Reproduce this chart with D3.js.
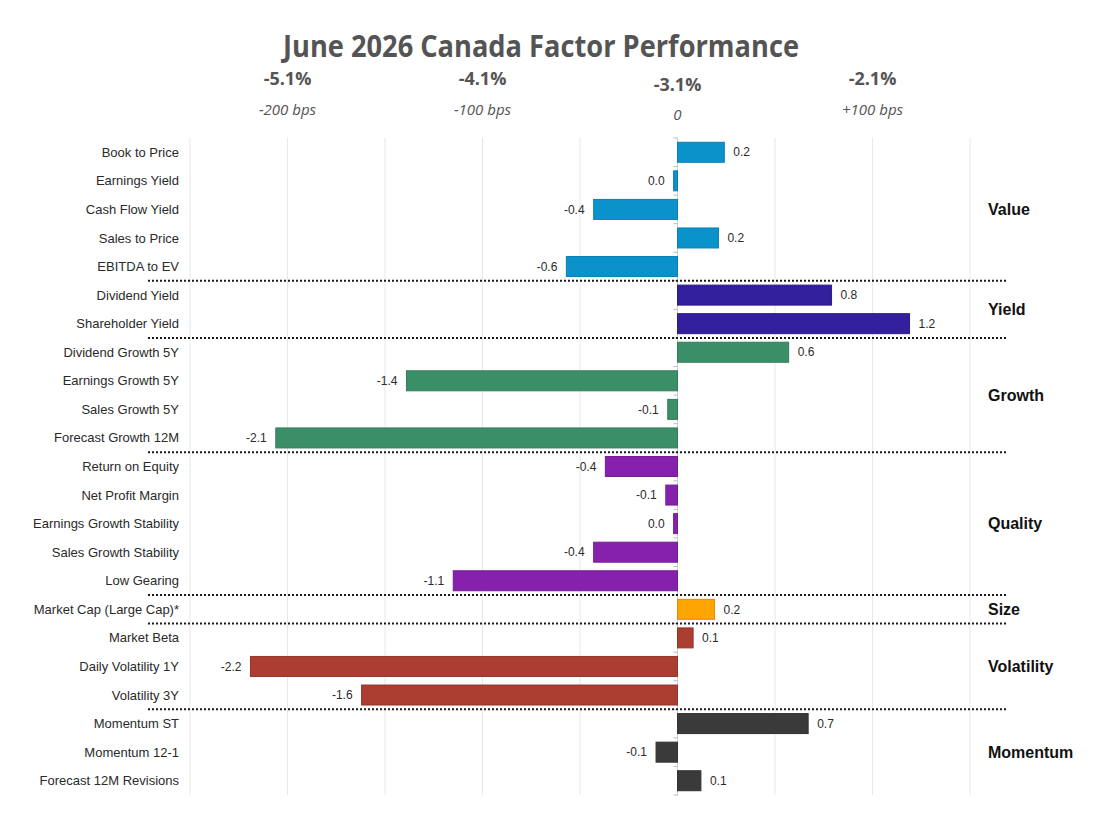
<!DOCTYPE html>
<html>
<head>
<meta charset="utf-8">
<script src="https://cdn.jsdelivr.net/npm/d3@7"></script>
<style>
    body { margin: 0; background: #fff; }
</style>
</head>
<body>
<script>
// Data
var factors = [
    "Book to Price", "Earnings Yield", "Cash Flow Yield", "Sales to Price", "EBITDA to EV",
    "Dividend Yield", "Shareholder Yield",
    "Dividend Growth 5Y", "Earnings Growth 5Y", "Sales Growth 5Y", "Forecast Growth 12M",
    "Return on Equity", "Net Profit Margin", "Earnings Growth Stability", "Sales Growth Stability", "Low Gearing",
    "Market Cap (Large Cap)*",
    "Market Beta", "Daily Volatility 1Y", "Volatility 3Y",
    "Momentum ST", "Momentum 12-1", "Forecast 12M Revisions"
];
var values = [
    0.24, -0.02, -0.43, 0.21, -0.57,
    0.79, 1.19,
    0.57, -1.39, -0.05, -2.06,
    -0.37, -0.06, -0.02, -0.43, -1.15,
    0.19,
    0.08, -2.19, -1.62,
    0.67, -0.11, 0.12
];
var groups = ["Value", "Yield", "Growth", "Quality", "Size", "Volatility", "Momentum"];
var groupSizes = [5, 2, 4, 5, 1, 3, 3];
var groupColors = ["#0a93cb", "#33209c", "#3b8f68", "#8621ae", "#ffa500", "#ab3d31", "#3a3a3a"];
var headerAt = [-2, -1, 0, 1];
var headerPct = ["-5.1%", "-4.1%", "-3.1%", "-2.1%"];
var headerBps = ["-200 bps", "-100 bps", "0", "+100 bps"];
var gridTicks = [-2.5, -2, -1.5, -1, -0.5, 0, 0.5, 1, 1.5];

d3.select(window).on("load", init);

function init()
{
    var w = 1107;
    var h = 830;

    var svg = d3.select("body")
        .append("svg")
        .attr("width", w)
        .attr("height", h);

    // which group each row belongs to
    var rowGroup = [];
    groupSizes.forEach(function(n, g) {
        for (var i = 0; i < n; i++) rowGroup.push(g);
    });

    var rows = factors.map(function(f, i) {
        return { name: f, value: values[i], group: rowGroup[i] };
    });

    var xScale = d3.scaleLinear()
        .domain([-2.5, 1.5])
        .range([190, 970]);

    var yScale = d3.scaleBand()
        .domain(factors)
        .range([138, 795])
        .paddingInner(0.3)
        .paddingOuter(0.15);

    var step = yScale.step();
    var top = yScale.range()[0];
    var fmt = d3.formatLocale({ decimal: ".", thousands: ",", grouping: [3], currency: ["", ""], minus: "-" }).format(".1f");

    // Title
    svg.append("text")
        .attr("x", 541)
        .attr("y", 57)
        .attr("text-anchor", "middle")
        .attr("textLength", 516)
        .attr("lengthAdjust", "spacingAndGlyphs")
        .style("font-family", "'Open Sans', sans-serif")
        .style("font-weight", "bold")
        .style("font-size", "30px")
        .style("fill", "#545454")
        .text("June 2026 Canada Factor Performance");

    // Header row of reference levels (the middle one sits a little lower)
    svg.selectAll(".hpct")
        .data(headerAt)
        .enter()
        .append("text")
        .attr("class", "hpct")
        .attr("x", function(d) { return xScale(d); })
        .attr("y", function(d) { return d === 0 ? 91 : 85; })
        .attr("text-anchor", "middle")
        .style("font-family", "'Open Sans', sans-serif")
        .style("font-weight", "bold")
        .style("font-size", "18px")
        .style("fill", "#555")
        .text(function(d, i) { return headerPct[i]; });

    svg.selectAll(".hbps")
        .data(headerAt)
        .enter()
        .append("text")
        .attr("class", "hbps")
        .attr("x", function(d) { return xScale(d); })
        .attr("y", function(d) { return d === 0 ? 120 : 115; })
        .attr("text-anchor", "middle")
        .style("font-family", "'Open Sans', sans-serif")
        .style("font-style", "italic")
        .style("font-size", "15px")
        .style("fill", "#555")
        .text(function(d, i) { return headerBps[i]; });

    // Gridlines
    svg.selectAll(".grid")
        .data(gridTicks)
        .enter()
        .append("line")
        .attr("class", "grid")
        .attr("x1", function(d) { return xScale(d); })
        .attr("x2", function(d) { return xScale(d); })
        .attr("y1", 138)
        .attr("y2", 795)
        .style("stroke", "#e8e8e8")
        .style("stroke-width", 1);

    // zero axis with small ticks at row boundaries
    svg.append("line")
        .attr("x1", xScale(0))
        .attr("x2", xScale(0))
        .attr("y1", 138)
        .attr("y2", 795)
        .style("stroke", "#d0d0d0");

    var bounds = d3.range(factors.length + 1).map(function(i) { return top + i * step; });

    svg.selectAll(".ztick")
        .data(bounds)
        .enter()
        .append("line")
        .attr("class", "ztick")
        .attr("x1", xScale(0) - 4)
        .attr("x2", xScale(0))
        .attr("y1", function(d) { return d; })
        .attr("y2", function(d) { return d; })
        .style("stroke", "#bbb");

    // Bars
    svg.selectAll(".bar")
        .data(rows)
        .enter()
        .append("rect")
        .attr("class", "bar")
        .attr("x", function(d) { return xScale(Math.min(0, d.value)); })
        .attr("y", function(d) { return yScale(d.name); })
        .attr("width", function(d) { return Math.abs(xScale(d.value) - xScale(0)); })
        .attr("height", yScale.bandwidth())
        .style("fill", function(d) { return groupColors[d.group]; })
        .style("stroke", function(d) { return d3.color(groupColors[d.group]).darker(0.4); })
        .style("stroke-width", 1);

    // Value labels
    svg.selectAll(".val")
        .data(rows)
        .enter()
        .append("text")
        .attr("class", "val")
        .attr("x", function(d) {
            return d.value >= 0 ? xScale(d.value) + 9 : xScale(d.value) - 9;
        })
        .attr("y", function(d) { return yScale(d.name) + yScale.bandwidth() / 2; })
        .attr("dy", "0.35em")
        .attr("text-anchor", function(d) { return d.value >= 0 ? "start" : "end"; })
        .style("font-family", "'Liberation Sans', Arial, sans-serif")
        .style("font-size", "12px")
        .style("fill", "#2a2a2a")
        .text(function(d) { return fmt(d.value); });

    // Category labels
    svg.selectAll(".cat")
        .data(rows)
        .enter()
        .append("text")
        .attr("class", "cat")
        .attr("x", 179)
        .attr("y", function(d) { return yScale(d.name) + yScale.bandwidth() / 2; })
        .attr("dy", "0.35em")
        .attr("text-anchor", "end")
        .style("font-family", "'Liberation Sans', Arial, sans-serif")
        .style("font-size", "13px")
        .style("fill", "#2a2a2a")
        .text(function(d) { return d.name; });

    // Group separators and group names
    var groupInfo = [];
    var start = 0;
    groupSizes.forEach(function(n, g) {
        groupInfo.push({ name: groups[g], first: start, last: start + n - 1 });
        start += n;
    });

    svg.selectAll(".sep")
        .data(groupInfo.slice(0, groupInfo.length - 1))
        .enter()
        .append("line")
        .attr("class", "sep")
        .attr("x1", 148)
        .attr("x2", 1006)
        .attr("y1", function(d) { return top + (d.last + 1) * step; })
        .attr("y2", function(d) { return top + (d.last + 1) * step; })
        .style("stroke", "#1a1a1a")
        .style("stroke-width", 2)
        .style("stroke-dasharray", "2,2");

    svg.selectAll(".grp")
        .data(groupInfo)
        .enter()
        .append("text")
        .attr("class", "grp")
        .attr("x", 988)
        .attr("y", function(d) { return top + (d.first + d.last + 1) / 2 * step; })
        .attr("dy", "0.35em")
        .style("font-family", "'Liberation Sans', Arial, sans-serif")
        .style("font-weight", "bold")
        .style("font-size", "16px")
        .style("fill", "#111")
        .text(function(d) { return d.name; });
}
</script>
</body>
</html>
